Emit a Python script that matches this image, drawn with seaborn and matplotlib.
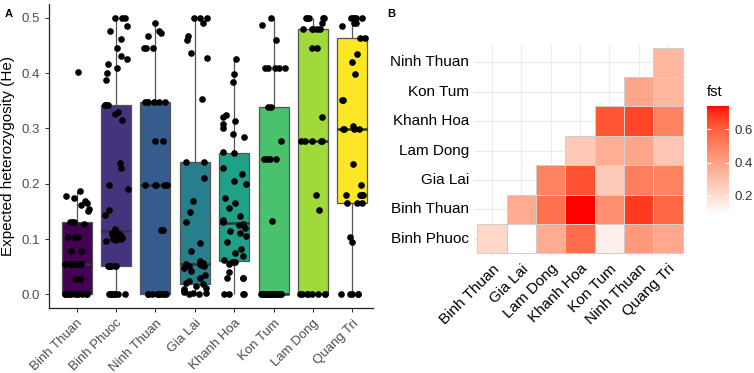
import numpy as np
import pandas as pd
import matplotlib
matplotlib.use("Agg")
import matplotlib.pyplot as plt
from matplotlib.colors import ListedColormap
import seaborn as sns

# ---- panel A: expected heterozygosity per population ----
populations = ["Binh Thuan", "Binh Phuoc", "Ninh Thuan", "Gia Lai",
               "Khanh Hoa", "Kon Tum", "Lam Dong", "Quang Tri"]
# viridis(8) as in R, end colours included
box_colors = ["#440154", "#46337E", "#365C8D", "#277F8E",
              "#1FA187", "#4AC16D", "#9FDA3A", "#FDE725"]

he_binh_thuan = [0, 0, 0, 0, 0, 0, 0, 0, 0, 0, 0, 0.027, 0.027,
                 0.054, 0.054, 0.054, 0.054, 0.054, 0.054, 0.054, 0.078, 0.078,
                 0.103, 0.103, 0.103, 0.127, 0.130, 0.131, 0.131,
                 0.150, 0.155, 0.162, 0.165, 0.168, 0.175, 0.178, 0.187, 0.403]
he_binh_phuoc = [0, 0, 0, 0, 0, 0, 0, 0, 0, 0.052, 0.052, 0.052, 0.052, 0.052, 0.052,
                 0.096, 0.098, 0.100, 0.100, 0.102, 0.104, 0.105, 0.106, 0.108,
                 0.109, 0.110, 0.110, 0.118, 0.143, 0.152, 0.190, 0.197, 0.228,
                 0.238, 0.315, 0.326, 0.330, 0.342, 0.342, 0.342, 0.342, 0.387, 0.400,
                 0.410, 0.416, 0.425, 0.431, 0.445, 0.461, 0.476, 0.486, 0.5, 0.5, 0.5]
he_ninh_thuan = [0, 0, 0, 0, 0, 0, 0, 0, 0, 0.116, 0.116,
                 0.197, 0.197, 0.197, 0.197, 0.197, 0.197, 0.277, 0.277,
                 0.347, 0.347, 0.347, 0.347, 0.347, 0.347,
                 0.445, 0.445, 0.445, 0.467, 0.472, 0.476, 0.490]
he_gia_lai = [0, 0, 0.002, 0.003, 0.005, 0.008, 0.010, 0.012, 0.015,
              0.018, 0.020, 0.024, 0.030, 0.035, 0.042, 0.048,
              0.051, 0.052, 0.053, 0.054, 0.055, 0.056,
              0.060, 0.079, 0.093, 0.131, 0.149, 0.168, 0.211, 0.240, 0.240,
              0.353, 0.427, 0.437, 0.460, 0.467, 0.490, 0.5, 0.5, 0.5]
he_khanh_hoa = [0, 0, 0, 0, 0.030, 0.030, 0.030, 0.040,
                0.055, 0.058, 0.058, 0.062,
                0.070, 0.075, 0.082, 0.095, 0.105, 0.110, 0.114, 0.120, 0.125, 0.128,
                0.130, 0.135, 0.141, 0.156, 0.165, 0.174, 0.200, 0.205, 0.217, 0.228, 0.256,
                0.258, 0.284, 0.290, 0.300, 0.308, 0.313, 0.320, 0.325, 0.384, 0.398, 0.425]
he_kon_tum = [0, 0, 0, 0, 0, 0, 0, 0, 0, 0, 0, 0, 0, 0, 0, 0, 0, 0, 0, 0,
              0.132, 0.244, 0.244, 0.244, 0.244, 0.278, 0.338, 0.338,
              0.409, 0.409, 0.409, 0.409, 0.409, 0.460, 0.488, 0.5]
he_lam_dong = [0, 0, 0, 0, 0, 0, 0, 0, 0.152, 0.179,
               0.278, 0.278, 0.278, 0.278, 0.278, 0.321, 0.445, 0.445,
               0.480, 0.480, 0.480, 0.480, 0.480, 0.490,
               0.5, 0.5, 0.5, 0.5, 0.5]
he_quang_tri = [0, 0, 0, 0, 0, 0.095, 0.103, 0.165, 0.165, 0.165,
                0.179, 0.179, 0.179, 0.179, 0.197, 0.236,
                0.299, 0.299, 0.299, 0.299, 0.304, 0.351, 0.351, 0.398, 0.421, 0.435,
                0.464, 0.464, 0.485, 0.490, 0.490, 0.5, 0.5, 0.5, 0.5, 0.5]

he_values = [he_binh_thuan, he_binh_phuoc, he_ninh_thuan, he_gia_lai,
             he_khanh_hoa, he_kon_tum, he_lam_dong, he_quang_tri]

# ---- panel B: pairwise fst (lower triangle) ----
fst_rows = ["Binh Phuoc", "Binh Thuan", "Gia Lai", "Lam Dong",
            "Khanh Hoa", "Kon Tum", "Ninh Thuan"]          # bottom -> top
fst_cols = ["Binh Thuan", "Gia Lai", "Lam Dong", "Khanh Hoa",
            "Kon Tum", "Ninh Thuan", "Quang Tri"]
fst_binh_phuoc = [0.22, 0.085, 0.37, 0.56, 0.14, 0.43, 0.38]
fst_binh_thuan = [0.37, 0.55, 0.74, 0.46, 0.68, 0.58]
fst_gia_lai = [0.50, 0.63, 0.27, 0.51, 0.50]
fst_lam_dong = [0.27, 0.36, 0.39, 0.28]
fst_khanh_hoa = [0.62, 0.66, 0.50]
fst_kon_tum = [0.39, 0.33]
fst_ninh_thuan = [0.33]
fst_values = [fst_binh_phuoc, fst_binh_thuan, fst_gia_lai, fst_lam_dong,
              fst_khanh_hoa, fst_kon_tum, fst_ninh_thuan]


def lab_gradient(c1, c2, n=256):
    # white -> red interpolated in CIE Lab (like ggplot's scale_fill_gradient)
    wp = np.array([0.95047, 1.0, 1.08883])
    M = np.array([[0.4124, 0.3576, 0.1805],
                  [0.2126, 0.7152, 0.0722],
                  [0.0193, 0.1192, 0.9505]])

    def to_lab(rgb):
        c = np.where(rgb > 0.04045, ((rgb + 0.055) / 1.055) ** 2.4, rgb / 12.92)
        xyz = M @ c / wp
        f = np.where(xyz > 0.008856, np.cbrt(xyz), 7.787 * xyz + 16 / 116)
        return np.array([116 * f[1] - 16, 500 * (f[0] - f[1]), 200 * (f[1] - f[2])])

    def to_rgb(lab):
        fy = (lab[0] + 16) / 116
        fx = fy + lab[1] / 500
        fz = fy - lab[2] / 200
        f = np.array([fx, fy, fz])
        xyz = np.where(f ** 3 > 0.008856, f ** 3, (f - 16 / 116) / 7.787) * wp
        c = np.linalg.solve(M, xyz)
        c = np.where(c > 0.0031308, 1.055 * np.abs(c) ** (1 / 2.4) - 0.055, 12.92 * c)
        return np.clip(c, 0, 1)

    l1, l2 = to_lab(np.array(c1, float)), to_lab(np.array(c2, float))
    return ListedColormap([to_rgb(l1 + (l2 - l1) * t) for t in np.linspace(0, 1, n)])


plt.rcParams["font.family"] = ["Liberation Sans", "DejaVu Sans"]

fig = plt.figure(figsize=(7.54, 3.73), dpi=100)

# ---------------- panel A ----------------
ax1 = fig.add_axes([0.065, 0.174, 0.430, 0.815])
df = pd.DataFrame({
    "pop": [p for p, v in zip(populations, he_values) for _ in v],
    "He": [x for v in he_values for x in v],
})
sns.boxplot(data=df, x="pop", y="He", hue="pop", order=populations,
            hue_order=populations, palette=box_colors, saturation=1, legend=False,
            width=0.76, showfliers=False, linecolor="#555555", linewidth=0.9,
            medianprops={"color": "#333333", "linewidth": 1.8},
            capprops={"linewidth": 0}, ax=ax1)
np.random.seed(3)
sns.stripplot(data=df, x="pop", y="He", order=populations, color="black",
              size=4.8, jitter=0.32, ax=ax1)
ax1.set_xlim(-0.7, 7.53)
ax1.set_ylim(-0.025, 0.525)
ax1.set_yticks([0, 0.1, 0.2, 0.3, 0.4, 0.5])
ax1.set_yticklabels(["0.0", "0.1", "0.2", "0.3", "0.4", "0.5"])
ax1.set_xlabel("")
ax1.set_ylabel("Expected heterozygosity (He)", fontsize=11, color="black", labelpad=5)
ax1.tick_params(axis="both", colors="#333333", labelcolor="#4d4d4d",
                labelsize=9.5, length=3, width=0.7)
plt.setp(ax1.get_xticklabels(), rotation=45, ha="right", rotation_mode="anchor")
for s in ["top", "right"]:
    ax1.spines[s].set_visible(False)
for s in ["left", "bottom"]:
    ax1.spines[s].set_linewidth(0.9)
    ax1.spines[s].set_color("#222222")

# ---------------- panel B ----------------
n = len(fst_rows)
mat = np.full((n, len(fst_cols)), np.nan)
for i, vals in enumerate(fst_values):
    r = n - 1 - i                    # heatmap row 0 is at the top
    mat[r, i:i + len(vals)] = vals
fst_df = pd.DataFrame(mat, index=fst_rows[::-1], columns=fst_cols)
all_fst = [x for v in fst_values for x in v]

ax2 = fig.add_axes([0.6292, 0.3131, 0.2802, 0.5668])
cax = fig.add_axes([0.9377, 0.4236, 0.0292, 0.2922])
sns.heatmap(fst_df, cmap=lab_gradient((1, 1, 1), (1, 0, 0)),
            vmin=min(all_fst), vmax=max(all_fst),
            linewidths=0.6, linecolor="#cfcfcf", ax=ax2, cbar_ax=cax,
            cbar_kws={"ticks": [0.2, 0.4, 0.6]})
# no cell borders where there is no tile
mesh = ax2.collections[0]
edge = [(0.81, 0.81, 0.81, 1.0) if np.isfinite(v) else (0, 0, 0, 0)
        for v in mat.flatten()]
mesh.set_edgecolor(edge)
ax2.set_xlim(-0.1, 7.1)
ax2.set_ylim(7.1, -0.1)
ax2.set_axisbelow(True)
ax2.grid(True, color="#ebebeb", linewidth=0.8)
ax2.set_xlabel("")
ax2.set_ylabel("")
ax2.tick_params(length=0, labelsize=11, labelcolor="black", pad=4)
plt.setp(ax2.get_xticklabels(), rotation=45, ha="right", rotation_mode="anchor")
plt.setp(ax2.get_yticklabels(), rotation=0)
for s in ax2.spines.values():
    s.set_visible(False)

cax.set_yticklabels(["0.2", "0.4", "0.6"])
cax.tick_params(left=True, right=True, labelleft=False, labelright=True,
                direction="in", color="white", length=3, width=0.8,
                labelsize=9.5, labelcolor="#333333", pad=4)
cax.set_title("fst", fontsize=10.5, loc="left", pad=7)
for s in cax.spines.values():
    s.set_visible(False)

fig.text(0.006, 0.975, "A", fontsize=8, fontweight="bold", va="top")
fig.text(0.513, 0.975, "B", fontsize=8, fontweight="bold", va="top")

fig.savefig("out.png", dpi=100)
